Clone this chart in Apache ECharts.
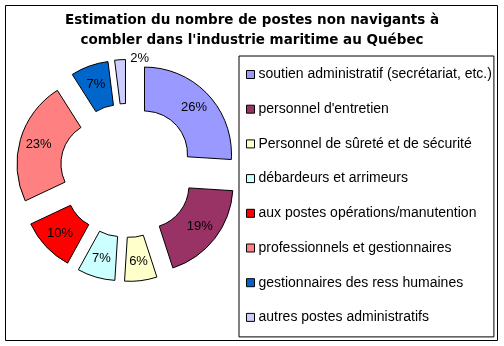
<!DOCTYPE html>
<html>
<head>
<meta charset="utf-8">
<script src="https://cdn.jsdelivr.net/npm/echarts@6/dist/echarts.min.js"></script>
<style>
  html, body { margin: 0; padding: 0; background: #fff; }
  #chart { width: 504px; height: 346px; }
</style>
</head>
<body>
<div id="chart"></div>
<script>
var categories = [
    'soutien administratif (secrétariat, etc.)',
    "personnel d'entretien",
    'Personnel de sûreté et de sécurité',
    'débardeurs et arrimeurs',
    'aux postes opérations/manutention',
    'professionnels et gestionnaires',
    'gestionnaires des ress humaines',
    'autres postes administratifs'
];
var values = [26, 19, 6, 7, 10, 23, 7, 2];
var palette = ['#9999FF', '#993366', '#FFFFCC', '#CCFFFF', '#FF0000', '#FF8080', '#0066CC', '#CCCCFF'];

var chart = echarts.init(document.getElementById('chart'), null, {renderer: 'canvas'});

var d = [];
for (var i = 0; i < categories.length; i++) {
    var item = {name: categories[i], value: values[i], selected: true};
    if (values[i] < 3) {
        item.label = {position: 'outside'};
        item.labelLine = {show: false, length: 0, length2: 0};
    }
    d.push(item);
}

var option = {
    animation: false,
    color: palette,
    title: {
        text: "Estimation du nombre de postes non navigants à\ncombler dans l'industrie maritime au Québec",
        left: 'center',
        top: 10,
        padding: [0, 0, 0, 9],
        textStyle: {
            fontFamily: 'DejaVu Sans',
            fontWeight: 'bold',
            fontSize: 13.5,
            lineHeight: 20.5,
            color: '#000'
        }
    },
    legend: {
        orient: 'vertical',
        left: 239,
        top: 56,
        padding: [11, 2, 12, 7],
        itemGap: 19.7,
        itemWidth: 8,
        itemHeight: 8,
        icon: 'rect',
        selectedMode: false,
        borderColor: '#000',
        borderWidth: 1,
        backgroundColor: '#fff',
        itemStyle: {borderColor: '#000', borderWidth: 1},
        textStyle: {
            fontFamily: 'Liberation Sans',
            fontSize: 14,
            lineHeight: 15,
            color: '#000',
            padding: [0, 0, 0, -1]
        },
        data: categories
    },
    graphic: [{
        type: 'rect',
        shape: {x: 5.5, y: 5.5, width: 492, height: 335},
        style: {fill: null, stroke: '#000', lineWidth: 1},
        silent: true,
        z: -1
    }],
    series: [{
        name: 'postes',
        type: 'pie',
        center: [127, 170.5],
        radius: [43, 87],
        startAngle: 90,
        clockwise: true,
        selectedMode: 'multiple',
        selectedOffset: 24,
        avoidLabelOverlap: false,
        itemStyle: {borderColor: '#000', borderWidth: 1},
        emphasis: {disabled: true},
        label: {
            show: true,
            position: 'inside',
            formatter: '{c}%',
            fontFamily: 'Liberation Sans',
            fontSize: 13,
            color: '#000'
        },
        labelLayout: function (params) {
            if (params.dataIndex === 7) {
                return {dx: 34, dy: -1};
            }
        },
        data: d
    }]
};
chart.setOption(option);
</script>
</body>
</html>
